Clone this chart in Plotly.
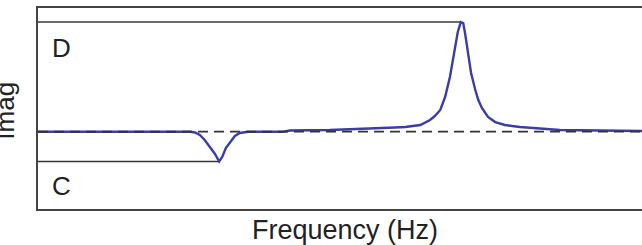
import plotly.graph_objects as go

# Frequency (arbitrary units) and imaginary part
freq = [0, 18.5, 25.2, 26.0, 26.8, 27.6, 28.5, 29.3, 30.0, 30.5, 31.1, 31.8, 32.6, 33.4, 34.8,
        40.6, 41.7, 48.3, 55.0, 59.1, 60.8, 63.3, 64.9, 65.7, 66.6, 67.4, 68.2, 69.0, 69.5,
        70.0, 70.4, 70.7, 71.2, 71.7, 72.4, 72.9, 73.5, 74.5, 75.7, 77.3, 79.8, 83.1, 86.4,
        93.0, 100]
imag = [0, 0, 0, -0.007, -0.030, -0.076, -0.140, -0.203, -0.272, -0.231, -0.149, -0.094, -0.039,
        -0.012, 0, 0, 0.011, 0.015, 0.025, 0.038, 0.043, 0.061, 0.107, 0.143, 0.198, 0.316,
        0.499, 0.745, 0.909, 1.0, 0.991, 0.900, 0.717, 0.535, 0.380, 0.289, 0.216, 0.134,
        0.088, 0.061, 0.043, 0.029, 0.015, 0.011, 0.006]
labels = ["D", "C"]

x_min, x_max = 0, 100
y_min, y_max = -0.705, 1.128

i_peak = imag.index(max(imag))
i_dip = imag.index(min(imag))

FONT = "Liberation Sans, Arial, sans-serif"
fig = go.Figure()

# guide lines
fig.add_trace(go.Scatter(x=[x_min, freq[i_peak]], y=[imag[i_peak]] * 2, mode="lines",
                         line=dict(color="#383838", width=1.6), hoverinfo="skip"))
fig.add_trace(go.Scatter(x=[x_min, freq[i_dip]], y=[imag[i_dip]] * 2, mode="lines",
                         line=dict(color="#383838", width=1.6), hoverinfo="skip"))
# spectrum
fig.add_trace(go.Scatter(x=freq, y=imag, mode="lines",
                         line=dict(color="#3c3ca6", width=2.4), hoverinfo="skip"))
# baseline
fig.add_trace(go.Scatter(x=[x_min, x_max], y=[0, 0], mode="lines",
                         line=dict(color="#333333", width=1.8, dash="10px,6px"), hoverinfo="skip"))

fig.update_layout(
    width=642, height=245,
    margin=dict(l=38, r=0, t=8, b=36),
    paper_bgcolor="white", plot_bgcolor="white",
    showlegend=False,
    hovermode=False,
    xaxis=dict(range=[x_min, x_max], showgrid=False, zeroline=False, showticklabels=False,
               ticks="", showline=True, mirror=True, linecolor="#444444", linewidth=1.6),
    yaxis=dict(range=[y_min, y_max], showgrid=False, zeroline=False, showticklabels=False,
               ticks="", showline=True, mirror=False, linecolor="#444444", linewidth=1.6),
    annotations=[
        dict(text=labels[0], xref="paper", yref="paper", x=0.039, y=0.80, showarrow=False,
             xanchor="center", yanchor="middle",
             font=dict(family=FONT, size=26, color="#222222")),
        dict(text=labels[1], xref="paper", yref="paper", x=0.039, y=0.115, showarrow=False,
             xanchor="center", yanchor="middle",
             font=dict(family=FONT, size=26, color="#222222")),
        dict(text="Frequency (Hz)", xref="paper", yref="paper", x=0.508, y=-0.105,
             xanchor="center", yanchor="middle",
             showarrow=False, font=dict(family=FONT, size=27, color="#222222")),
        dict(text="Imag", xref="paper", yref="paper", x=-0.055, y=0.488, textangle=-90,
             xanchor="center", yanchor="middle",
             showarrow=False, font=dict(family=FONT, size=26, color="#222222")),
    ],
)

fig.write_html("out.html", config={"displayModeBar": False},
               post_script="document.body.style.margin='0';document.body.style.overflow='hidden';")
